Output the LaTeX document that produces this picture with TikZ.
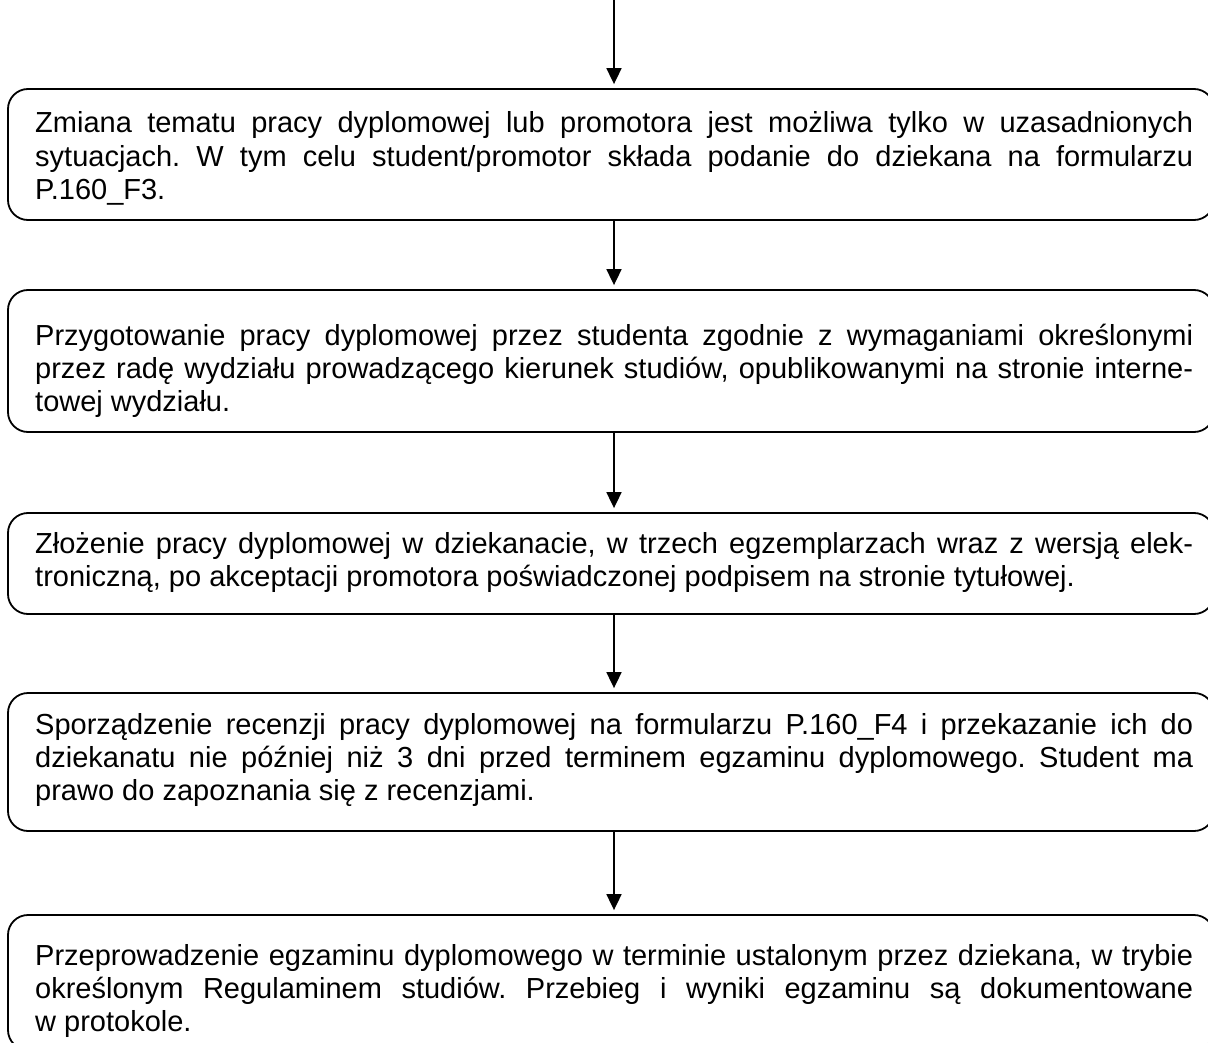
\documentclass[tikz,border=0pt]{standalone}
\usepackage{fontspec}
\setmainfont{Liberation Sans}
\usetikzlibrary{arrows.meta}
\newcommand\boxtextfont{\fontsize{29pt}{33.4pt}\selectfont\frenchspacing
  \hyphenpenalty=10000 \exhyphenpenalty=10000 \tolerance=10000 \emergencystretch=20pt\relax}
\tikzset{
  stepbox/.style={draw, line width=1.8pt, rounded corners=20pt, minimum width=1206pt, inner sep=0pt},
  txt/.style={anchor=base west, inner sep=0pt, text width=1158pt, align=justify, font=\boxtextfont},
  conn/.style={line width=1.8pt, -{Triangle[length=16pt,width=15pt]}, shorten >=4pt}
}
\begin{document}
\begin{tikzpicture}[x=1pt,y=-1pt]
\useasboundingbox (0,0) rectangle (1208,1043);
\coordinate (start) at (614,0);
\node[stepbox, minimum height=131pt] (b1) at (611,154.5) {};
\node[stepbox, minimum height=142pt] (b2) at (611,361) {};
\node[stepbox, minimum height=101pt] (b3) at (611,563.5) {};
\node[stepbox, minimum height=138pt] (b4) at (611,762) {};
\node[stepbox, minimum height=135pt] (b5) at (611,982.5) {};
\node[txt] (t1) at (35,133) {Zmiana tematu pracy dyplomowej lub promotora jest możliwa tylko w uzasadnionych\linebreak sytuacjach. W tym celu student/promotor składa podanie do dziekana na formularzu\linebreak P.160\_F3.};
\node[txt] (t2) at (35,345) {Przygotowanie pracy dyplomowej przez studenta zgodnie z wymaganiami określonymi\linebreak przez radę wydziału prowadzącego kierunek studiów, opublikowanymi na stronie interne-\linebreak towej wydziału.};
\node[txt] (t3) at (35,553) {Złożenie pracy dyplomowej w dziekanacie, w trzech egzemplarzach wraz z wersją elek-\linebreak troniczną, po akceptacji promotora poświadczonej podpisem na stronie tytułowej.};
\node[txt] (t4) at (35,734) {Sporządzenie recenzji pracy dyplomowej na formularzu P.160\_F4 i przekazanie ich do\linebreak dziekanatu nie później niż 3 dni przed terminem egzaminu dyplomowego. Student ma\linebreak prawo do zapoznania się z recenzjami.};
\node[txt] (t5) at (35,965) {Przeprowadzenie egzaminu dyplomowego w terminie ustalonym przez dziekana, w trybie\linebreak określonym Regulaminem studiów. Przebieg i wyniki egzaminu są dokumentowane\linebreak w protokole.};
\draw[conn] (start) -- (start |- b1.north);
\draw[conn] (start |- b1.south) -- (start |- b2.north);
\draw[conn] (start |- b2.south) -- (start |- b3.north);
\draw[conn] (start |- b3.south) -- (start |- b4.north);
\draw[conn] (start |- b4.south) -- (start |- b5.north);
\end{tikzpicture}
\end{document}
